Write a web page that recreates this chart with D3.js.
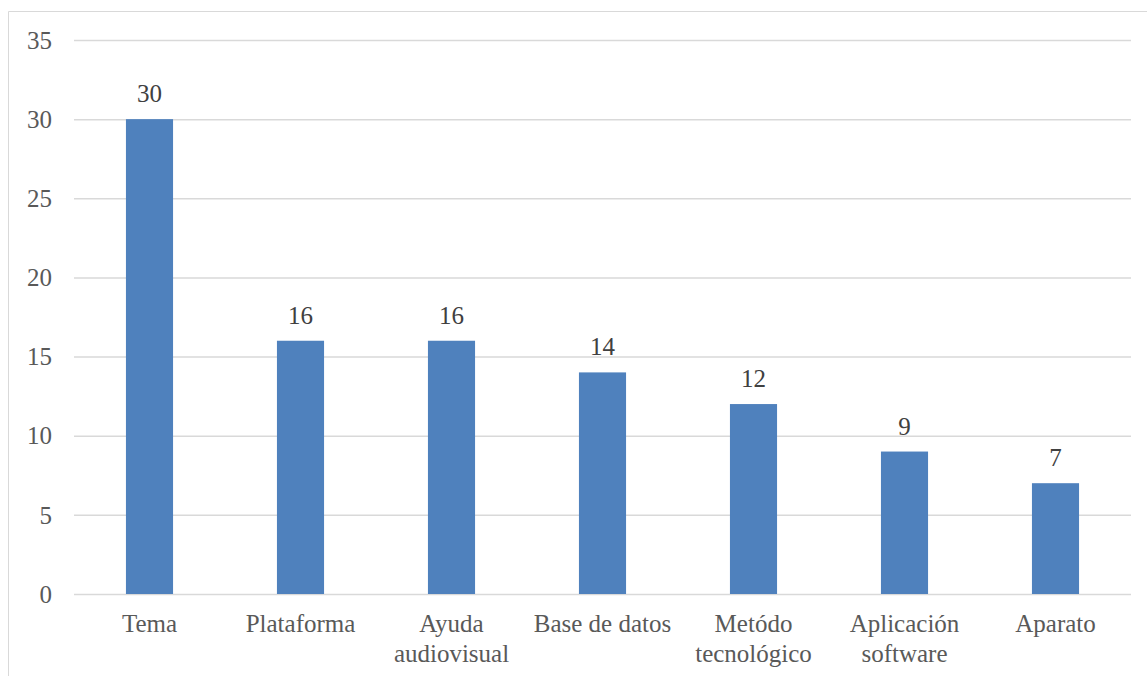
<!DOCTYPE html>
<html>
<head>
<meta charset="utf-8">
<script src="https://cdn.jsdelivr.net/npm/d3@7"></script>
<style>
  html, body { margin: 0; padding: 0; background: #fff; }
  svg { display: block; }
</style>
</head>
<body>
<svg id="chart" width="1147" height="676"></svg>
<script>
// Categories (multi-line labels split with "\n") and their counts
const categories = ["Tema", "Plataforma", "Ayuda\naudiovisual", "Base de datos", "Metódo\ntecnológico", "Aplicación\nsoftware", "Aparato"];
const counts = [30, 16, 16, 14, 12, 9, 7];
const yTicks = [0, 5, 10, 15, 20, 25, 30, 35];

const svg = d3.select("#chart");
const W = 1147, H = 676;
const margin = { left: 74, right: 16, top: 40, bottom: 82 };
const fontFamily = "'Liberation Serif', 'Times New Roman', serif";

// Chart frame
svg.append("path")
  .attr("d", `M8.5,${H} V11.5 H${W}`)
  .attr("fill", "none")
  .attr("stroke", "#d9d9d9")
  .attr("stroke-width", 1);

const x = d3.scaleBand()
  .domain(categories)
  .range([margin.left, W - margin.right])
  .paddingInner(0.688)
  .paddingOuter(0.344);

const y = d3.scaleLinear()
  .domain([0, 35])
  .range([H - margin.bottom, margin.top]);

// Horizontal gridlines with tick labels
const yAxis = d3.axisLeft(y)
  .tickValues(yTicks)
  .tickSize(-(W - margin.right - margin.left))
  .tickPadding(22);

const gy = svg.append("g")
  .attr("transform", `translate(${margin.left},0)`)
  .call(yAxis);
gy.select(".domain").remove();
gy.selectAll(".tick line")
  .attr("stroke", "#d9d9d9")
  .attr("stroke-width", 1.5);
gy.selectAll(".tick text")
  .attr("fill", "#595959")
  .attr("font-family", fontFamily)
  .attr("font-size", 25)
  .attr("dy", "0.33em");

// Bars
svg.append("g")
  .selectAll("rect")
  .data(categories)
  .join("rect")
  .attr("x", d => x(d))
  .attr("width", x.bandwidth())
  .attr("y", (d, i) => y(counts[i]))
  .attr("height", (d, i) => y(0) - y(counts[i]))
  .attr("fill", "#4f81bd");

// Value labels above bars
svg.append("g")
  .selectAll("text")
  .data(categories)
  .join("text")
  .attr("x", d => x(d) + x.bandwidth() / 2)
  .attr("y", (d, i) => y(counts[i]) - 17)
  .attr("text-anchor", "middle")
  .attr("fill", "#404040")
  .attr("font-family", fontFamily)
  .attr("font-size", 25)
  .text((d, i) => counts[i]);

// Category labels
const xAxis = d3.axisBottom(x).tickSize(0).tickFormat(() => "");
const gx = svg.append("g")
  .attr("transform", `translate(0,${y(0)})`)
  .call(xAxis);
gx.select(".domain").remove();
gx.selectAll(".tick").each(function(d) {
  const lines = d.split("\n");
  const t = d3.select(this).append("text")
    .attr("text-anchor", "middle")
    .attr("fill", "#595959")
    .attr("font-family", fontFamily)
    .attr("font-size", 25);
  lines.forEach((ln, k) => {
    t.append("tspan")
      .attr("x", 0)
      .attr("y", 38 + k * 30)
      .text(ln);
  });
});
</script>
</body>
</html>
